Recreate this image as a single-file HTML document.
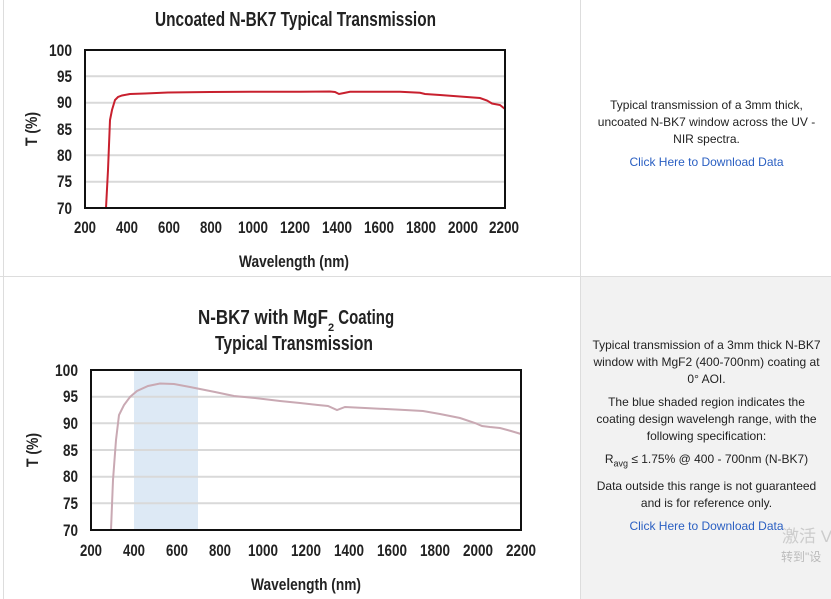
<!DOCTYPE html>
<html><head><meta charset="utf-8"><style>
body{margin:0;width:831px;height:599px;background:#fff;overflow:hidden;font-family:"Liberation Sans",sans-serif}
.c{font-family:"Liberation Sans",sans-serif;font-weight:bold;fill:#222}
.p{position:absolute;left:582px;width:249px;text-align:center;font-size:12px;color:#222;line-height:17px}
.p p{margin:0 0 6px 0}
a{color:#2a5fc2;text-decoration:none}
</style></head><body>
<div style="position:absolute;left:581px;top:277px;width:250px;height:322px;background:#f2f2f2"></div>
<svg width="831" height="599" style="position:absolute;left:0;top:0">
<line x1="3.5" y1="0" x2="3.5" y2="599" stroke="#ddd"/>
<line x1="580.5" y1="0" x2="580.5" y2="599" stroke="#ddd"/>
<line x1="0" y1="276.5" x2="831" y2="276.5" stroke="#ddd"/>
<!-- chart 1 -->
<text class="c" x="155" y="26" font-size="20" textLength="281" lengthAdjust="spacingAndGlyphs">Uncoated N-BK7 Typical Transmission</text>
<g stroke="#d9d9d9" stroke-width="2">
<line x1="85" x2="505" y1="76.3" y2="76.3"/><line x1="85" x2="505" y1="102.7" y2="102.7"/><line x1="85" x2="505" y1="129" y2="129"/><line x1="85" x2="505" y1="155.3" y2="155.3"/><line x1="85" x2="505" y1="181.7" y2="181.7"/></g>
<polyline fill="none" stroke="#c8202e" stroke-width="2" points="106,208 108,170 110,120 112,110 115,100 118,97 122,95.5 130,94 145,93.5 168,92.5 210,92 250,91.8 300,91.7 330,91.5 335,92 339,94 344,93 350,91.8 400,91.7 420,92.8 425,94 440,95 460,96.5 480,98 487,100.5 492,103.5 500,105 505,109"/>
<rect x="85" y="50" width="420" height="158" fill="none" stroke="#111" stroke-width="2"/>
<g class="c" font-size="17" text-anchor="end">
<text x="72" y="56" textLength="23" lengthAdjust="spacingAndGlyphs">100</text><text x="72" y="82" textLength="15" lengthAdjust="spacingAndGlyphs">95</text><text x="72" y="108" textLength="15" lengthAdjust="spacingAndGlyphs">90</text><text x="72" y="135" textLength="15" lengthAdjust="spacingAndGlyphs">85</text><text x="72" y="161" textLength="15" lengthAdjust="spacingAndGlyphs">80</text><text x="72" y="187" textLength="15" lengthAdjust="spacingAndGlyphs">75</text><text x="72" y="214" textLength="15" lengthAdjust="spacingAndGlyphs">70</text></g>
<g class="c" font-size="17">
<text x="74" y="233" textLength="22" lengthAdjust="spacingAndGlyphs">200</text><text x="116" y="233" textLength="22" lengthAdjust="spacingAndGlyphs">400</text><text x="158" y="233" textLength="22" lengthAdjust="spacingAndGlyphs">600</text><text x="200" y="233" textLength="22" lengthAdjust="spacingAndGlyphs">800</text><text x="238" y="233" textLength="30" lengthAdjust="spacingAndGlyphs">1000</text><text x="280" y="233" textLength="30" lengthAdjust="spacingAndGlyphs">1200</text><text x="322" y="233" textLength="30" lengthAdjust="spacingAndGlyphs">1400</text><text x="364" y="233" textLength="30" lengthAdjust="spacingAndGlyphs">1600</text><text x="406" y="233" textLength="30" lengthAdjust="spacingAndGlyphs">1800</text><text x="448" y="233" textLength="30" lengthAdjust="spacingAndGlyphs">2000</text><text x="489" y="233" textLength="30" lengthAdjust="spacingAndGlyphs">2200</text></g>
<text class="c" x="239" y="267" font-size="17" textLength="110" lengthAdjust="spacingAndGlyphs">Wavelength (nm)</text>
<text class="c" font-size="17" transform="translate(37,146) rotate(-90)" textLength="34" lengthAdjust="spacingAndGlyphs">T (%)</text>
<!-- chart 2 -->
<text class="c" x="198" y="324" font-size="20">
<tspan textLength="130" lengthAdjust="spacingAndGlyphs">N-BK7 with MgF</tspan><tspan font-size="11" dy="7">2</tspan><tspan dy="-7" textLength="60" lengthAdjust="spacingAndGlyphs"> Coating</tspan></text>
<text class="c" x="215" y="350" font-size="20" textLength="158" lengthAdjust="spacingAndGlyphs">Typical Transmission</text>
<rect x="134" y="370" width="64" height="160" fill="#dde9f5"/>
<g stroke="#d9d9d9" stroke-width="2">
<line x1="91" x2="521" y1="396.7" y2="396.7"/><line x1="91" x2="521" y1="423.3" y2="423.3"/><line x1="91" x2="521" y1="450" y2="450"/><line x1="91" x2="521" y1="476.7" y2="476.7"/><line x1="91" x2="521" y1="503.3" y2="503.3"/></g>
<polyline fill="none" stroke="#c9a9b3" stroke-width="2" points="111,530 113,480 116,440 119,415 124,405 130,397 137,391 148,386 160,383.5 174,384 190,387 200,389 215,392 234,396 255,398 280,401 300,403 318,405 328,406 337,410 345,407 365,408 405,410 423,411 440,414 460,418 475,423 482,426 490,427 500,428 511,431 521,434"/>
<rect x="91" y="370" width="430" height="160" fill="none" stroke="#111" stroke-width="2"/>
<g class="c" font-size="17" text-anchor="end">
<text x="78" y="376" textLength="23" lengthAdjust="spacingAndGlyphs">100</text><text x="78" y="402" textLength="15" lengthAdjust="spacingAndGlyphs">95</text><text x="78" y="429" textLength="15" lengthAdjust="spacingAndGlyphs">90</text><text x="78" y="456" textLength="15" lengthAdjust="spacingAndGlyphs">85</text><text x="78" y="482" textLength="15" lengthAdjust="spacingAndGlyphs">80</text><text x="78" y="509" textLength="15" lengthAdjust="spacingAndGlyphs">75</text><text x="78" y="536" textLength="15" lengthAdjust="spacingAndGlyphs">70</text></g>
<g class="c" font-size="17">
<text x="80" y="556" textLength="22" lengthAdjust="spacingAndGlyphs">200</text><text x="123" y="556" textLength="22" lengthAdjust="spacingAndGlyphs">400</text><text x="166" y="556" textLength="22" lengthAdjust="spacingAndGlyphs">600</text><text x="209" y="556" textLength="22" lengthAdjust="spacingAndGlyphs">800</text><text x="248" y="556" textLength="30" lengthAdjust="spacingAndGlyphs">1000</text><text x="291" y="556" textLength="30" lengthAdjust="spacingAndGlyphs">1200</text><text x="334" y="556" textLength="30" lengthAdjust="spacingAndGlyphs">1400</text><text x="377" y="556" textLength="30" lengthAdjust="spacingAndGlyphs">1600</text><text x="420" y="556" textLength="30" lengthAdjust="spacingAndGlyphs">1800</text><text x="463" y="556" textLength="30" lengthAdjust="spacingAndGlyphs">2000</text><text x="506" y="556" textLength="30" lengthAdjust="spacingAndGlyphs">2200</text></g>
<text class="c" x="251" y="590" font-size="17" textLength="110" lengthAdjust="spacingAndGlyphs">Wavelength (nm)</text>
<text class="c" font-size="17" transform="translate(38,467) rotate(-90)" textLength="34" lengthAdjust="spacingAndGlyphs">T (%)</text>
</svg>
<div class="p" style="top:97px"><p>Typical transmission of a 3mm thick,<br>uncoated N-BK7 window across the UV -<br>NIR spectra.</p><p><a>Click Here to Download Data</a></p></div>
<div class="p" style="top:337px"><p>Typical transmission of a 3mm thick N-BK7<br>window with MgF2 (400-700nm) coating at<br>0° AOI.</p><p>The blue shaded region indicates the<br>coating design wavelengh range, with the<br>following specification:</p><p>R<sub style="font-size:9px">avg</sub> ≤ 1.75% @ 400 - 700nm (N-BK7)</p><p>Data outside this range is not guaranteed<br>and is for reference only.</p><p><a>Click Here to Download Data</a></p></div>
<div style="position:absolute;left:782px;top:522px;font-size:17px;color:#ccc;font-family:'Liberation Sans','Noto Sans CJK SC',sans-serif;white-space:nowrap">激活 V</div>
<div style="position:absolute;left:781px;top:548px;font-size:12px;color:#bbb;font-family:'Liberation Sans','Noto Sans CJK SC',sans-serif;white-space:nowrap">转到"设</div>
</body></html>
